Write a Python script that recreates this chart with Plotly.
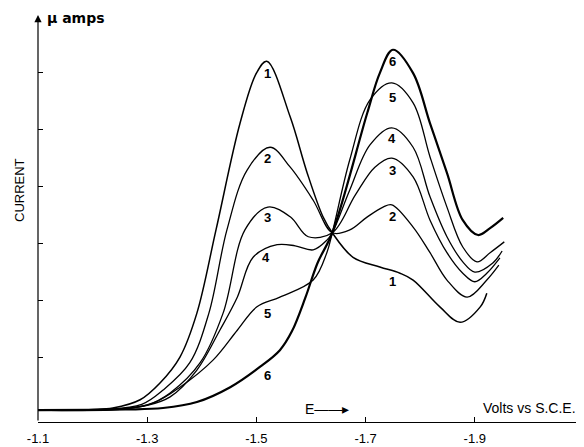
import plotly.graph_objects as go

# Potential (V vs S.C.E.) and current (arbitrary µA units) for six polarograms
volts_1 = [-1.100, -1.200, -1.237, -1.287, -1.323, -1.360, -1.391, -1.426, -1.470, -1.500, -1.519,
           -1.562, -1.593, -1.622, -1.639, -1.677, -1.726, -1.763, -1.787, -1.836, -1.873, -1.910, -1.922]
current_1 = [0.07, 0.08, 0.105, 0.25, 0.54, 1.00, 1.77, 3.23, 5.10, 5.98, 6.19,
             5.21, 4.23, 3.46, 3.18, 2.75, 2.58, 2.47, 2.35, 1.88, 1.61, 1.88, 2.12]

volts_2 = [-1.100, -1.220, -1.290, -1.329, -1.378, -1.413, -1.446, -1.483, -1.525, -1.562, -1.604,
           -1.639, -1.671, -1.702, -1.732, -1.748, -1.787, -1.818, -1.849, -1.886, -1.922, -1.944]
current_2 = [0.07, 0.08, 0.17, 0.42, 0.90, 1.77, 3.23, 4.28, 4.68, 4.33, 3.75,
             3.18, 3.23, 3.45, 3.63, 3.67, 3.28, 2.83, 2.35, 2.05, 2.35, 2.61]

volts_3 = [-1.100, -1.230, -1.300, -1.342, -1.397, -1.439, -1.479, -1.521, -1.562, -1.595, -1.639,
           -1.681, -1.717, -1.748, -1.787, -1.818, -1.849, -1.878, -1.900, -1.922, -1.946]
current_3 = [0.07, 0.08, 0.16, 0.37, 0.90, 1.77, 3.23, 3.63, 3.46, 3.11, 3.18,
             3.84, 4.33, 4.49, 4.16, 3.40, 2.83, 2.47, 2.32, 2.47, 2.74]

volts_4 = [-1.100, -1.240, -1.300, -1.342, -1.391, -1.433, -1.465, -1.494, -1.538, -1.571, -1.604,
           -1.629, -1.639, -1.671, -1.708, -1.748, -1.787, -1.818, -1.849, -1.878, -1.900, -1.933, -1.950]
current_4 = [0.07, 0.08, 0.15, 0.30, 0.77, 1.47, 2.05, 2.75, 2.97, 2.95, 2.88,
             3.05, 3.18, 3.93, 4.72, 5.02, 4.68, 3.81, 3.11, 2.67, 2.49, 2.65, 2.86]

volts_5 = [-1.100, -1.250, -1.311, -1.360, -1.421, -1.465, -1.501, -1.543, -1.604, -1.629, -1.639,
           -1.671, -1.708, -1.748, -1.787, -1.818, -1.849, -1.878, -1.904, -1.928, -1.954]
current_5 = [0.07, 0.08, 0.19, 0.47, 0.95, 1.47, 1.88, 2.05, 2.35, 2.83, 3.18,
             4.46, 5.51, 5.81, 5.46, 4.51, 3.63, 2.93, 2.67, 2.83, 3.02]

volts_6 = [-1.100, -1.260, -1.329, -1.391, -1.452, -1.507, -1.543, -1.565, -1.590, -1.612, -1.639,
           -1.703, -1.726, -1.750, -1.787, -1.818, -1.849, -1.878, -1.906, -1.928, -1.952]
current_6 = [0.07, 0.08, 0.105, 0.21, 0.47, 0.83, 1.12, 1.45, 2.05, 2.65, 3.18,
             5.28, 5.98, 6.39, 5.98, 5.10, 4.23, 3.40, 3.14, 3.26, 3.44]

curve_names = ["1", "2", "3", "4", "5", "6"]
curve_volts = [volts_1, volts_2, volts_3, volts_4, volts_5, volts_6]
curve_currents = [current_1, current_2, current_3, current_4, current_5, current_6]
curve_widths = [1.5, 1.3, 1.3, 1.3, 1.3, 2.2]

# Curve number labels (left group and right group), in data coordinates
label_left_v = [-1.521, -1.521, -1.521, -1.518, -1.521, -1.521]
label_left_i = [5.98, 4.49, 3.44, 2.74, 1.77, 0.68]
label_right_v = [-1.749, -1.749, -1.749, -1.749, -1.749, -1.750]
label_right_i = [2.32, 3.46, 4.28, 4.83, 5.56, 6.18]

x_tickvals = [-1.1, -1.3, -1.5, -1.7, -1.9]
x_ticktext = ["-1.1", "-1.3", "-1.5", "-1.7", "-1.9"]
y_tickvals = [1, 2, 3, 4, 5, 6]

X_RANGE = [-1.1, -2.1]
Y_RANGE = [-0.14, 7.0]

# The page adds an 8px body margin; the figure is sized to fill the rest of the window.
PAGE_OFF = 8
FIG_W, FIG_H = 584 - PAGE_OFF, 447 - PAGE_OFF
PLOT_L, PLOT_R, PLOT_T, PLOT_B = 38, 584, 15, 422  # plot area in window pixels
PW, PH = PLOT_R - PLOT_L, PLOT_B - PLOT_T


def px(xw):
    return (xw - PLOT_L) / PW


def py(yw):
    return (PLOT_B - yw) / PH


fig = go.Figure()
for name, xs, ys, w in zip(curve_names, curve_volts, curve_currents, curve_widths):
    fig.add_trace(go.Scatter(x=xs, y=ys, mode="lines", name=name,
                             line=dict(color="black", width=w, shape="spline", smoothing=1.0),
                             hoverinfo="skip", showlegend=False))

font_lbl = dict(family="Liberation Sans, Arial, sans-serif", size=13, color="black")
anns = []
for name, lx, ly in zip(curve_names, label_left_v, label_left_i):
    anns.append(dict(x=lx, y=ly, text="<b>" + name + "</b>", showarrow=False, font=font_lbl,
                     xref="x", yref="y"))
for name, rx, ry in zip(curve_names, label_right_v, label_right_i):
    anns.append(dict(x=rx, y=ry, text="<b>" + name + "</b>", showarrow=False, font=font_lbl,
                     xref="x", yref="y"))

# y-axis with arrow at the top
anns.append(dict(x=X_RANGE[0], y=Y_RANGE[1], ax=X_RANGE[0], ay=Y_RANGE[0],
                 xref="x", yref="y", axref="x", ayref="y", text="",
                 showarrow=True, arrowhead=2, arrowsize=1.2, arrowwidth=1.2, arrowcolor="black"))
anns.append(dict(x=px(45), y=py(18), xref="paper", yref="paper", xanchor="left",
                 yanchor="middle", text="<b>µ amps</b>", showarrow=False,
                 font=dict(family="DejaVu Sans, sans-serif", size=14, color="black")))
anns.append(dict(x=px(20), y=py(190), xref="paper", yref="paper", text="CURRENT",
                 textangle=-90, showarrow=False, xanchor="center", yanchor="middle",
                 font=dict(family="Liberation Sans, Arial, sans-serif", size=13, color="black")))
anns.append(dict(x=px(303), y=py(409), xref="paper", yref="paper", xanchor="left",
                 yanchor="middle", text="E\u2014\u2014\u25B8", showarrow=False,
                 font=dict(family="Liberation Sans, Arial, sans-serif", size=14, color="black")))
anns.append(dict(x=px(578), y=py(408), xref="paper", yref="paper", xanchor="right",
                 yanchor="middle", text="Volts vs S.C.E.", showarrow=False,
                 font=dict(family="Liberation Sans, Arial, sans-serif", size=14, color="black")))

fig.update_layout(
    width=FIG_W, height=FIG_H,
    margin=dict(l=PLOT_L - PAGE_OFF, r=584 - PLOT_R, t=PLOT_T - PAGE_OFF, b=447 - PLOT_B,
                autoexpand=False),
    paper_bgcolor="white", plot_bgcolor="white",
    annotations=anns,
    xaxis=dict(range=X_RANGE, tickvals=x_tickvals, ticktext=x_ticktext, automargin=False,
               showline=True, linecolor="black", linewidth=1.2, mirror=False,
               ticks="inside", ticklen=5, tickcolor="black", tickwidth=1,
               showgrid=False, zeroline=False, ticklabelstandoff=4,
               tickfont=dict(family="Liberation Sans, Arial, sans-serif", size=13, color="black")),
    yaxis=dict(range=Y_RANGE, tickvals=y_tickvals, showticklabels=False, automargin=False,
               showline=False, ticks="inside", ticklen=5, tickcolor="black", tickwidth=1,
               showgrid=False, zeroline=False),
)

fig.write_html("out.html")
